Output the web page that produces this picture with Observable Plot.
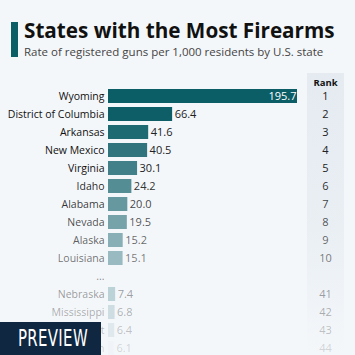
<!DOCTYPE html>
<html>
<head>
<meta charset="utf-8">
<script src="https://cdn.jsdelivr.net/npm/d3@7"></script>
<script src="https://cdn.jsdelivr.net/npm/@observablehq/plot@0.6"></script>
<style>
  html, body { margin: 0; padding: 0; width: 355px; height: 355px; overflow: hidden; background: #f4f7fa; font-family: "Open Sans", sans-serif; }
  #wrap { position: relative; width: 355px; height: 355px; }
  #accent { position: absolute; left: 11px; top: 22px; width: 7px; height: 35px; background: #0b5d66; }
  #title { position: absolute; left: 24px; top: 16px; font-weight: 700; font-size: 20.7px; color: #111; white-space: nowrap; }
  #subtitle { position: absolute; left: 24px; top: 44px; font-size: 11.5px; color: #444; white-space: nowrap; }
  #header { height: 64px; }
  #rankband { position: absolute; left: 307px; top: 73px; width: 37px; height: 282px;
              background: linear-gradient(to bottom, rgba(226,233,239,0.85) 0px, rgba(226,233,239,0.6) 150px, rgba(226,233,239,0) 282px); }
  #chart { position: relative; }
  #preview { position: absolute; left: 0; top: 322px; width: 101px; height: 33px; background: #0f2740; }
  #preview span { position: absolute; left: 18px; top: 3px; color: #fff; font-family: "DejaVu Sans", sans-serif; font-stretch: condensed; font-size: 23px; transform: scaleX(0.72); transform-origin: left top; letter-spacing: 0.5px; }
  svg { display: block; }
</style>
</head>
<body>
<div id="wrap">
  <div id="rankband"></div>
  <div id="header"></div>
  <div id="accent"></div>
  <div id="title">States with the Most Firearms</div>
  <div id="subtitle">Rate of registered guns per 1,000 residents by U.S. state</div>
  <div id="chart"></div>
  <div id="preview"><span>PREVIEW</span></div>
</div>
<script>
const states = ["Wyoming", "District of Columbia", "Arkansas", "New Mexico", "Virginia", "Idaho", "Alabama", "Nevada", "Alaska", "Louisiana", "...", "Nebraska", "Mississippi", "Vermont", "Wisconsin"];
const rates  = [195.7, 66.4, 41.6, 40.5, 30.1, 24.2, 20.0, 19.5, 15.2, 15.1, null, 7.4, 6.8, 6.4, 6.1];
const ranks  = ["1", "2", "3", "4", "5", "6", "7", "8", "9", "10", "", "41", "42", "43", "44"];
const rankHeader = "Rank";

const rows = states.map((s, i) => ({i, state: s, rate: rates[i], rank: ranks[i], label: rates[i] == null ? "" : rates[i].toFixed(1)}));
const barRows = rows.filter(d => d.rate != null);
const firstRow = barRows[0];
const otherRows = barRows.slice(1);

// fading toward the bottom of the picture (row centre in page pixels)
const rowY = d => 96 + 18 * d.i;
const clamp = v => Math.max(0, Math.min(1, v));
const barFade = d => 1 - clamp((rowY(d) - 112) / 240);
const textFade = d => 1 - clamp((rowY(d) - 172) / 215);

const plot = Plot.plot({
  width: 355,
  height: 293,
  marginTop: 23,
  marginBottom: 0,
  marginLeft: 108,
  marginRight: 58,
  style: {background: "transparent", fontFamily: "Open Sans, sans-serif", overflow: "visible"},
  x: {domain: [0, 195.7], axis: null},
  y: {domain: states, padding: 0, axis: null},
  marks: [
    Plot.barX(barRows, {x: "rate", y: "state", fill: "#0b5d66", fillOpacity: barFade, insetTop: 2, insetBottom: 2}),
    Plot.text(rows, {x: 0, y: "state", text: "state", textAnchor: "end", dx: -4, fontSize: 10.5, fill: "#111", fillOpacity: textFade}),
    Plot.text(otherRows, {x: "rate", y: "state", text: "label", textAnchor: "start", dx: 2, fontSize: 11, fill: "#222", fillOpacity: textFade}),
    Plot.text([firstRow], {x: "rate", y: "state", text: "label", textAnchor: "end", dx: -1, fontSize: 11, fill: "#fff"}),
    Plot.text(rows, {y: "state", text: "rank", frameAnchor: "right", dx: 28, textAnchor: "middle", fontSize: 11, fill: "#222", fillOpacity: textFade}),
    Plot.text([rankHeader], {frameAnchor: "top-right", text: d => d, dx: 28, dy: -8, textAnchor: "middle", fontSize: 9.5, fontWeight: 700, fill: "#111"})
  ]
});
document.getElementById("chart").appendChild(plot);
</script>
</body>
</html>
